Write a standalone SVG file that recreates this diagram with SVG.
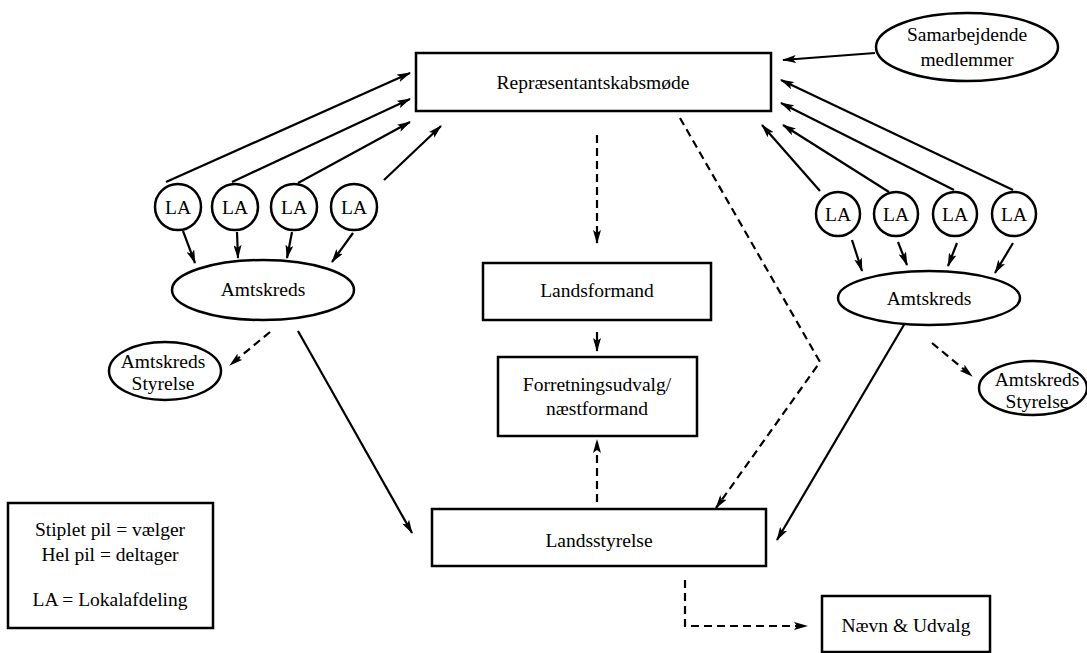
<svg xmlns="http://www.w3.org/2000/svg" width="1087" height="653" viewBox="0 0 1087 653">
<defs>
<marker id="ah" viewBox="0 0 14 8" refX="13" refY="4" markerWidth="14" markerHeight="8" markerUnits="userSpaceOnUse" orient="auto">
<path d="M0,0 L14,4 L0,8 L3,4 Z" fill="#000"/>
</marker>
</defs>
<style>
.box{fill:#fff;stroke:#000;stroke-width:2.5}
.ell{fill:#fff;stroke:#000;stroke-width:2.5}
.t{font-family:"Liberation Serif","Times New Roman",serif;font-size:19.5px;fill:#000;text-anchor:middle}
.c{fill:none;stroke:#000;stroke-width:2.2;marker-end:url(#ah)}
.d{fill:none;stroke:#000;stroke-width:2.2;stroke-dasharray:8 5;marker-end:url(#ah)}
</style>
<rect width="1087" height="653" fill="#fff"/>
<g id="connectors">
<line class="c" x1="875" y1="53" x2="783" y2="60"/>
<line class="c" x1="166" y1="182" x2="410" y2="73"/>
<line class="c" x1="232" y1="182" x2="410" y2="99"/>
<line class="c" x1="298" y1="183" x2="410" y2="122"/>
<line class="c" x1="384" y1="180" x2="441" y2="126"/>
<line class="c" x1="1013" y1="190" x2="781" y2="80"/>
<line class="c" x1="954" y1="190" x2="781" y2="103"/>
<line class="c" x1="889" y1="192" x2="783" y2="125"/>
<line class="c" x1="820" y1="191" x2="762" y2="125"/>
<line class="c" x1="183" y1="231" x2="195" y2="263"/>
<line class="c" x1="237" y1="232" x2="238" y2="258"/>
<line class="c" x1="292" y1="232" x2="287" y2="258"/>
<line class="c" x1="353" y1="233" x2="332" y2="262"/>
<line class="c" x1="852" y1="240" x2="862" y2="271"/>
<line class="c" x1="898" y1="242" x2="907" y2="265"/>
<line class="c" x1="957" y1="243" x2="948" y2="266"/>
<line class="c" x1="1013" y1="243" x2="995" y2="273"/>
<line class="c" x1="298" y1="331" x2="412" y2="533"/>
<line class="c" x1="908" y1="318" x2="777" y2="540"/>
<line class="c" x1="597" y1="332" x2="597" y2="351"/>
<line class="d" x1="597" y1="135" x2="597" y2="243"/>
<line class="d" x1="597" y1="502" x2="597" y2="440"/>
<polyline class="d" points="680,118 820,362 716,508"/>
<line class="d" x1="270" y1="332" x2="230" y2="365"/>
<line class="d" x1="932" y1="343" x2="972" y2="376"/>
<polyline class="d" points="685,580 685,626 807,626"/>
</g>
<g id="rep"><rect class="box" x="416" y="53" width="355" height="58"/><text class="t" x="593" y="89">Repræsentantskabsmøde</text></g>
<g id="samarb"><ellipse class="ell" cx="967" cy="47" rx="91" ry="34"/><text class="t" x="967" y="41">Samarbejdende</text><text class="t" x="967" y="66">medlemmer</text></g>
<g id="la-l1"><circle class="ell" cx="178" cy="207" r="23"/><text class="t" x="178" y="214">LA</text></g>
<g id="la-l2"><circle class="ell" cx="235" cy="207" r="23"/><text class="t" x="235" y="214">LA</text></g>
<g id="la-l3"><circle class="ell" cx="294" cy="207" r="23"/><text class="t" x="294" y="214">LA</text></g>
<g id="la-l4"><circle class="ell" cx="354" cy="207" r="23"/><text class="t" x="354" y="214">LA</text></g>
<g id="amt-l"><ellipse class="ell" cx="263" cy="290" rx="91" ry="30"/><text class="t" x="263" y="296">Amtskreds</text></g>
<g id="styr-l"><ellipse class="ell" cx="165" cy="371" rx="56" ry="29"/><text class="t" x="163" y="368">Amtskreds</text><text class="t" x="163" y="390">Styrelse</text></g>
<g id="la-r1"><circle class="ell" cx="838" cy="214" r="22"/><text class="t" x="838" y="221">LA</text></g>
<g id="la-r2"><circle class="ell" cx="896" cy="214" r="22"/><text class="t" x="896" y="221">LA</text></g>
<g id="la-r3"><circle class="ell" cx="955" cy="214" r="22"/><text class="t" x="955" y="221">LA</text></g>
<g id="la-r4"><circle class="ell" cx="1014" cy="214" r="22"/><text class="t" x="1014" y="221">LA</text></g>
<g id="amt-r"><ellipse class="ell" cx="929" cy="298" rx="91" ry="27"/><text class="t" x="929" y="305">Amtskreds</text></g>
<g id="styr-r"><ellipse class="ell" cx="1033" cy="388" rx="54" ry="27"/><text class="t" x="1037" y="386">Amtskreds</text><text class="t" x="1037" y="408">Styrelse</text></g>
<g id="landsformand"><rect class="box" x="483" y="263" width="228" height="57"/><text class="t" x="597" y="297">Landsformand</text></g>
<g id="forretning"><rect class="box" x="498" y="357" width="199" height="79"/><text class="t" x="597" y="391">Forretningsudvalg/</text><text class="t" x="597" y="415">næstformand</text></g>
<g id="landsstyrelse"><rect class="box" x="432" y="509" width="334" height="57"/><text class="t" x="599" y="547">Landsstyrelse</text></g>
<g id="naevn"><rect class="box" x="822" y="596" width="168" height="56"/><text class="t" x="906" y="632">Nævn &amp; Udvalg</text></g>
<g id="legend"><rect class="box" x="8" y="503" width="205" height="125"/><text class="t" x="110" y="536">Stiplet pil = vælger</text><text class="t" x="110" y="561">Hel pil = deltager</text><text class="t" x="110" y="606">LA = Lokalafdeling</text></g>
</svg>
